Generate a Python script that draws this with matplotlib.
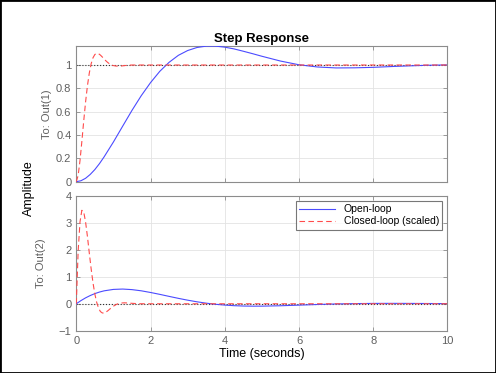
import numpy as np
import matplotlib
matplotlib.use("Agg")
from matplotlib import pyplot as plt
from matplotlib.patches import Rectangle

plt.rcParams['font.family'] = ['Liberation Sans', 'DejaVu Sans']

# open-loop step response
t_open = [0, 0.125, 0.25, 0.375, 0.5, 0.625, 0.75, 1.0, 1.25, 1.5, 1.75, 2.0, 2.25, 2.5,
          2.75, 3.0, 3.25, 3.5, 3.75, 4.0, 4.25, 4.5, 4.75, 5.0, 5.5, 6.0, 6.5, 7.0,
          7.5, 8.0, 8.5, 9.0, 9.5, 10.0]
out1_open = [0, 0.008, 0.029, 0.062, 0.104, 0.155, 0.213, 0.340, 0.476, 0.611, 0.737,
             0.849, 0.946, 1.023, 1.083, 1.124, 1.150, 1.162, 1.162, 1.153, 1.138,
             1.118, 1.097, 1.075, 1.034, 1.002, 0.983, 0.975, 0.976, 0.980, 0.987,
             0.993, 0.998, 1.001]
out2_open = [0, 0.117, 0.219, 0.305, 0.377, 0.435, 0.480, 0.533, 0.546, 0.525, 0.481,
             0.419, 0.349, 0.274, 0.201, 0.133, 0.073, 0.022, -0.019, -0.049, -0.071,
             -0.084, -0.089, -0.088, -0.074, -0.051, -0.027, -0.007, 0.006, 0.013,
             0.015, 0.013, 0.009, 0.006]

# closed-loop (scaled) step response
t_closed = [0, 0.05, 0.1, 0.15, 0.2, 0.25, 0.3, 0.35, 0.4, 0.45, 0.5, 0.55, 0.6, 0.65,
            0.7, 0.75, 0.8, 0.85, 0.9, 0.95, 1.0, 1.1, 1.2, 1.3, 1.4, 1.5, 1.7, 2, 3,
            4, 5, 6, 7, 8, 9, 10]
out1_closed = [0, 0.053, 0.180, 0.345, 0.519, 0.682, 0.821, 0.930, 1.010, 1.062, 1.090,
               1.100, 1.097, 1.085, 1.069, 1.052, 1.035, 1.021, 1.009, 1.000, 0.995,
               0.990, 0.991, 0.995, 0.998, 1.000, 1.000, 1, 1, 1, 1, 1, 1, 1, 1, 1]
out2_closed = [0, 1.94, 3.04, 3.47, 3.41, 3.04, 2.50, 1.89, 1.30, 0.78, 0.36, 0.05,
               -0.16, -0.29, -0.34, -0.35, -0.31, -0.26, -0.20, -0.14, -0.09, -0.01,
               0.027, 0.035, 0.027, 0.016, 0.001, 0, 0, 0, 0, 0, 0, 0, 0, 0]

final_vals = [1, 0]
xticks = [0, 2, 4, 6, 8, 10]

c_open = '#4b4bff'
c_closed = '#ff4b4b'
axcol = '#8c8c8c'
txtcol = '#5f5f5f'

fig = plt.figure(figsize=(4.96, 3.73), dpi=100)
fig.patches.append(Rectangle((0, 0), 1, 1, transform=fig.transFigure, fill=False,
                             edgecolor='black', linewidth=2.0))

ax1 = fig.add_axes([0.1538, 0.5129, 0.7484, 0.3638])
ax2 = fig.add_axes([0.1538, 0.1134, 0.7484, 0.3611])

for ax, yo, yc, fv in [(ax1, out1_open, out1_closed, final_vals[0]),
                       (ax2, out2_open, out2_closed, final_vals[1])]:
    ax.plot([0, 10], [fv, fv], ':', color='#333333', lw=0.8, zorder=2)
    ax.plot(t_open, yo, '-', color=c_open, lw=0.8, label='Open-loop', zorder=3)
    ax.plot(t_closed, yc, '--', color=c_closed, lw=0.8, dashes=(5, 3),
            label='Closed-loop (scaled)', zorder=3)
    ax.set_xlim(0, 10)
    ax.set_xticks(xticks)
    ax.grid(True, color='#e3e3e3', lw=0.6)
    ax.set_axisbelow(True)
    ax.tick_params(direction='in', length=3, width=0.6, colors=axcol,
                   labelcolor=txtcol, labelsize=8, top=True, right=True)
    for s in ax.spines.values():
        s.set_color(axcol)
        s.set_linewidth(0.8)

ax1.set_ylim(0, 1.163)
ax1.set_yticks([0, 0.2, 0.4, 0.6, 0.8, 1])
ax1.set_yticklabels(['0', '0.2', '0.4', '0.6', '0.8', '1'])
ax1.tick_params(labelbottom=False)
ax1.set_ylabel('To: Out(1)', color=txtcol, fontsize=8, labelpad=3)
ax1.set_title('Step Response', fontsize=9.5, fontweight='bold', pad=3)

ax2.set_ylim(-1, 4)
ax2.set_yticks([-1, 0, 1, 2, 3, 4])
ax2.set_ylabel('To: Out(2)', color=txtcol, fontsize=8, labelpad=9)
ax2.set_xlabel('Time (seconds)', fontsize=9, labelpad=2)
leg = ax2.legend(loc='upper right', fontsize=7.5, frameon=True, fancybox=False,
                 borderaxespad=0.5, handlelength=3.5, borderpad=0.3,
                 labelspacing=0.2)
leg.get_frame().set_edgecolor('#555555')
leg.get_frame().set_linewidth(0.8)

fig.text(0.058, 0.495, 'Amplitude', rotation=90, ha='center', va='center',
         fontsize=9)

fig.savefig('out.png', dpi=100)
